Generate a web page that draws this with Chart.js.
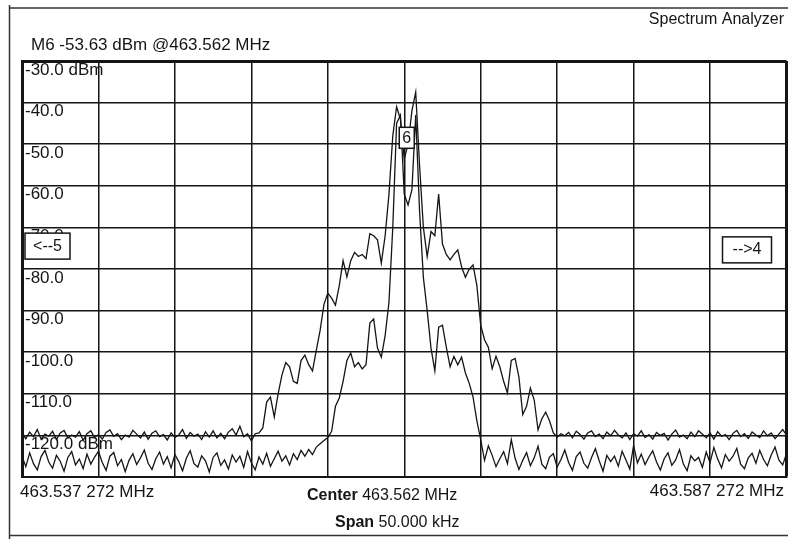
<!DOCTYPE html>
<html>
<head>
<meta charset="utf-8">
<title>Spectrum Analyzer</title>
<script src="https://cdn.jsdelivr.net/npm/chart.js@4.4.0/dist/chart.umd.min.js"></script>
<style>
  html, body { margin: 0; padding: 0; background: #fff; }
  #wrap { position: relative; width: 788px; height: 539px; }
</style>
</head>
<body>
<div id="wrap"><canvas id="myChart"></canvas></div>
<script>
// sweep: 201 points over 50 kHz span, values in dBm
const spanKHz = 50;

// trace 1 (wide one, floor near -120 dBm)
const traceA = [
  -119.5,-120.8,-119.2,-120.3,-118.6,-120.9,-119.7,-120.2,-119.0,-121.0,
  -119.4,-118.8,-120.6,-119.9,-120.4,-119.1,-121.2,-119.6,-118.9,-120.5,
  -119.8,-120.9,-119.3,-118.7,-120.2,-119.6,-121.0,-119.9,-120.4,-118.8,
  -119.7,-120.6,-119.2,-120.9,-119.5,-118.9,-120.3,-119.8,-121.1,-119.4,
  -120.5,-119.9,-118.6,-120.7,-119.3,-120.2,-119.7,-121.0,-119.1,-120.4,
  -118.9,-120.6,-119.5,-120.8,-119.2,-118.4,-119.9,-117.8,-120.3,-119.6,
  -121.3,-119.6,-119.4,-118.2,-112.0,-110.8,-115.6,-110.0,-105.5,-102.5,
  -103.5,-107.0,-107.5,-102.0,-100.7,-103.0,-104.5,-99.5,-94.7,-88.5,
  -85.8,-87.0,-88.7,-84.0,-78.0,-81.9,-78.0,-76.0,-77.0,-76.5,
  -77.5,-71.5,-72.0,-73.0,-78.6,-72.0,-62.0,-48.0,-41.0,-44.0,
  -53.6,-50.0,-42.0,-37.5,-55.0,-70.0,-77.0,-71.0,-72.0,-62.0,
  -74.0,-76.5,-77.8,-76.5,-75.4,-79.5,-82.0,-80.0,-79.0,-84.0,
  -93.5,-97.0,-98.8,-104.0,-101.0,-103.5,-107.0,-109.8,-102.0,-101.5,
  -106.0,-115.0,-113.0,-108.6,-111.5,-118.7,-116.0,-114.4,-116.5,-119.4,
  -120.4,-119.6,-120.1,-119.3,-120.6,-119.0,-119.8,-120.9,-119.4,-118.9,
  -120.3,-119.7,-120.8,-119.2,-120.1,-118.8,-119.9,-120.6,-119.4,-121.0,
  -119.6,-120.2,-118.9,-120.5,-119.8,-120.9,-119.3,-120.0,-119.5,-121.1,
  -119.7,-118.7,-120.4,-119.9,-120.8,-119.2,-120.3,-118.9,-119.7,-120.6,
  -119.4,-120.9,-119.1,-120.2,-119.8,-121.0,-119.5,-118.8,-120.3,-119.6,
  -120.7,-119.2,-119.9,-120.5,-118.9,-120.1,-119.4,-120.8,-119.7,-118.6,
  -119.9
];

// trace 2 (narrow one, floor near -125 dBm)
const traceB = [
  -125.0,-127.5,-124.2,-126.8,-128.3,-125.1,-123.6,-126.4,-127.9,-124.8,
  -126.2,-128.6,-125.3,-123.9,-127.1,-125.7,-128.0,-124.5,-126.9,-125.2,
  -123.8,-126.5,-128.4,-125.0,-124.1,-127.3,-125.8,-128.7,-126.0,-124.4,
  -127.0,-125.4,-123.5,-126.7,-128.2,-125.6,-124.0,-126.9,-125.1,-127.8,
  -124.6,-126.3,-128.5,-125.5,-123.7,-126.8,-127.6,-124.9,-126.1,-128.8,
  -125.3,-124.2,-127.2,-125.9,-128.1,-124.7,-126.4,-125.0,-127.7,-123.9,
  -126.6,-128.3,-125.2,-126.9,-124.3,-127.4,-125.6,-123.8,-126.2,-124.9,
  -127.1,-124.4,-125.8,-123.6,-125.0,-123.4,-124.6,-122.8,-122.0,-121.2,
  -120.5,-119.0,-113.0,-111.0,-107.0,-102.0,-100.2,-103.5,-102.5,-104.0,
  -103.0,-93.0,-92.0,-99.0,-101.2,-96.0,-88.0,-70.0,-45.0,-43.0,
  -62.0,-64.6,-61.0,-43.0,-66.0,-82.0,-90.0,-99.0,-104.5,-94.0,
  -93.5,-98.8,-103.5,-101.0,-103.0,-101.2,-105.0,-107.5,-110.8,-116.5,
  -121.0,-126.0,-122.5,-124.8,-127.5,-125.6,-123.9,-126.8,-121.0,-125.5,
  -128.2,-126.0,-124.1,-127.3,-125.4,-122.6,-126.9,-128.0,-125.2,-124.4,
  -127.6,-125.8,-123.5,-126.5,-128.4,-125.1,-124.0,-126.7,-127.9,-125.3,
  -123.2,-126.1,-128.6,-124.8,-126.3,-125.0,-127.4,-123.8,-125.9,-128.1,
  -122.4,-126.6,-124.5,-127.0,-125.2,-123.7,-126.4,-128.3,-125.6,-124.2,
  -127.2,-125.9,-123.4,-126.8,-128.5,-124.9,-126.1,-125.3,-127.7,-124.0,
  -126.5,-122.9,-125.7,-127.8,-124.6,-126.2,-125.0,-123.1,-126.9,-128.0,
  -125.4,-124.3,-126.7,-123.6,-125.8,-127.3,-124.7,-122.8,-125.9,-127.1,
  -124.4
];

// y tick labels, bottom (-130) to top (-30)
const yTickLabels = ['', '-120.0 dBm', '-110.0', '-100.0', '-90.0', '-80.0',
                     '-70.0', '-60.0', '-50.0', '-40.0', '-30.0 dBm'];

// markers
const markers = [{ text: '6', x: 0, y: -53.63 }];
const offMarkers = [
  { text: '<--5', side: 'left', y: -74.5 },
  { text: '-->4', side: 'right', y: -75.4 }
];

const headerTitle = 'Spectrum Analyzer';
const markerReadout = 'M6 -53.63 dBm @463.562 MHz';
const startFreq = '463.537 272 MHz';
const stopFreq = '463.587 272 MHz';
const centerFreq = ' 463.562 MHz';
const spanText = ' 50.000 kHz';

const FONT = "'Liberation Sans', Arial, sans-serif";
const INK = '#151515';

function toPoints(arr) {
  const n = arr.length - 1;
  return arr.map((v, i) => ({ x: -spanKHz / 2 + i * spanKHz / n, y: v }));
}

// text + frame around the plot
const overlay = {
  id: 'overlay',
  afterDraw(chart) {
    const c = chart.ctx;
    const xs = chart.scales.x, ys = chart.scales.y;
    const area = chart.chartArea;
    c.save();
    c.strokeStyle = '#333';
    c.lineWidth = 1.5;
    c.beginPath();
    c.moveTo(9.5, 5); c.lineTo(9.5, 539);
    c.moveTo(9, 8); c.lineTo(788, 8);
    c.moveTo(9, 535.5); c.lineTo(788, 535.5);
    c.stroke();

    c.fillStyle = INK;
    c.textBaseline = 'alphabetic';
    c.font = '16px ' + FONT;
    c.textAlign = 'right';
    c.fillText(headerTitle, 784, 24);
    c.textAlign = 'left';
    c.font = '17px ' + FONT;
    c.fillText(markerReadout, 31, 50);
    c.fillText(startFreq, 20, 497);
    c.textAlign = 'right';
    c.fillText(stopFreq, 784, 496);
    c.textAlign = 'left';
    c.font = 'bold 16px ' + FONT;
    c.fillText('Center', 307, 500);
    let w = c.measureText('Center').width;
    c.font = '16px ' + FONT;
    c.fillText(centerFreq, 307 + w, 500);
    c.font = 'bold 16px ' + FONT;
    c.fillText('Span', 335, 527);
    w = c.measureText('Span').width;
    c.font = '16px ' + FONT;
    c.fillText(spanText, 335 + w, 527);

    // marker boxes
    c.lineWidth = 1.5;
    c.strokeStyle = INK;
    c.font = '16px ' + FONT;
    c.textAlign = 'center';
    c.textBaseline = 'middle';
    markers.forEach(m => {
      const px = xs.getPixelForValue(m.x);
      const py = ys.getPixelForValue(m.y);
      const bx = px - 5, by = py - 32;
      c.fillStyle = '#fff';
      c.fillRect(bx, by, 15, 21);
      c.strokeRect(bx, by, 15, 21);
      c.fillStyle = INK;
      c.fillText(m.text, bx + 7.5, by + 11);
    });
    offMarkers.forEach(m => {
      const py = ys.getPixelForValue(m.y);
      const bw = m.side === 'left' ? 45 : 49;
      const bx = m.side === 'left' ? area.left + 3 : area.right - 64;
      const by = py - 13;
      c.fillStyle = '#fff';
      c.fillRect(bx, by, bw, 26);
      c.strokeRect(bx, by, bw, 26);
      c.fillStyle = INK;
      c.fillText(m.text, bx + bw / 2, by + 13);
    });
    c.restore();
  }
};

Chart.defaults.font.family = FONT;
Chart.defaults.color = INK;

const ctx = document.querySelector('#myChart').getContext('2d');
const myChart = new Chart(ctx, {
  type: 'line',
  data: {
    datasets: [
      {
        label: 'Trace 1',
        data: toPoints(traceA),
        borderColor: INK,
        borderWidth: 1.3,
        pointRadius: 0,
        tension: 0
      },
      {
        label: 'Trace 2',
        data: toPoints(traceB),
        borderColor: INK,
        borderWidth: 1.3,
        pointRadius: 0,
        tension: 0
      }
    ]
  },
  options: {
    responsive: true,
    maintainAspectRatio: false,
    animation: false,
    layout: { padding: { left: 16, right: 1.5, top: 61, bottom: 62 } },
    plugins: {
      legend: { display: false },
      tooltip: { enabled: false }
    },
    scales: {
      x: {
        type: 'linear',
        min: -spanKHz / 2,
        max: spanKHz / 2,
        ticks: { display: false, stepSize: 5 },
        grid: {
          color: INK,
          drawTicks: false,
          lineWidth: c => (c.tick && c.tick.value === spanKHz / 2) ? 3 : 1.5
        },
        border: { display: true, color: INK, width: 2 }
      },
      y: {
        min: -130,
        max: -30,
        ticks: {
          stepSize: 10,
          mirror: true,
          padding: 3,
          labelOffset: 9,
          autoSkip: false,
          font: { size: 17 },
          color: INK,
          callback: (value, index) => yTickLabels[index]
        },
        grid: {
          color: INK,
          drawTicks: false,
          lineWidth: c => (c.tick && c.tick.value === -30) ? 3 : 1.5
        },
        border: { display: true, color: INK, width: 3 }
      }
    }
  },
  plugins: [overlay]
});
</script>
</body>
</html>
